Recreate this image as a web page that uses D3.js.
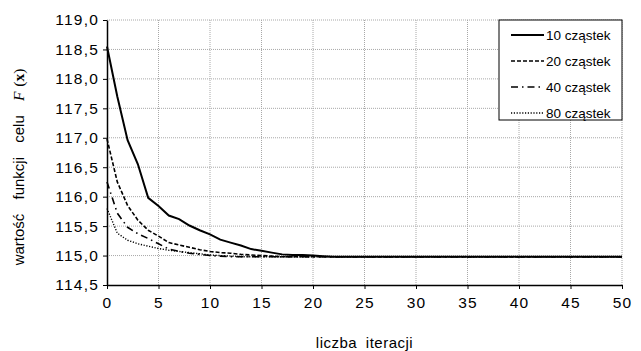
<!DOCTYPE html>
<html>
<head>
<meta charset="utf-8">
<script src="https://cdn.jsdelivr.net/npm/d3@7"></script>
<style>
	body { margin: 0; background: #fff; }
	svg { display: block; font-family: "Liberation Sans", Arial, sans-serif; }
	.axis text { font-size: 15.5px; fill: #000; letter-spacing: 1.2px; }
	.axis path, .axis line { stroke: #000; }
</style>
</head>
<body>
<script>
// iterations 0..50
var iterations = d3.range(0, 51);

// values (tail values stay flat near 114,98)
var tail = 114.98;
var s10 = [118.55, 117.7, 116.96, 116.55, 115.98, 115.84, 115.68, 115.62, 115.51, 115.43, 115.36,
	115.27, 115.22, 115.17, 115.11, 115.08, 115.05, 115.02, 115.01, 115.01, 115.0, 114.99];
var s20 = [116.98, 116.25, 115.85, 115.6, 115.43, 115.33, 115.22, 115.18, 115.14, 115.1, 115.07,
	115.05, 115.04, 115.02, 115.01, 115.0, 114.99];
var s40 = [116.25, 115.72, 115.48, 115.37, 115.29, 115.2, 115.11, 115.07, 115.04, 115.02, 115.0, 114.99];
var s80 = [115.8, 115.38, 115.26, 115.2, 115.16, 115.12, 115.09, 115.07, 115.05, 115.03, 115.01, 115.0, 114.99];

var seriesNames = ["10 cząstek", "20 cząstek", "40 cząstek", "80 cząstek"];
var yTicks = [114.5, 115, 115.5, 116, 116.5, 117, 117.5, 118, 118.5, 119];
var xTicks = [0, 5, 10, 15, 20, 25, 30, 35, 40, 45, 50];

function fill(ar){
	return iterations.map(i => i < ar.length ? ar[i] : tail);
}

var series = [s10, s20, s40, s80].map(fill);
var styles = [
	{dash: null, w: 2},
	{dash: "4,2", w: 1.6},
	{dash: "7,4,1.5,4", w: 1.6},
	{dash: "1.2,1.6", w: 1.4}
];

var width = 641, height = 351;
var margin = {top: 20, right: 19, bottom: 66, left: 107};

var svg = d3.select("body").append("svg")
	.attr("width", width)
	.attr("height", height);

var x = d3.scaleLinear().domain([0, 50]).range([margin.left, width - margin.right]);
var y = d3.scaleLinear().domain([114.5, 119]).range([height - margin.bottom, margin.top]);

var fmt = d => d3.format(".1f")(d).replace(".", ",");

// grid
svg.append("g").selectAll("line")
	.data(yTicks.slice(1))
	.enter().append("line")
	.attr("x1", x(0)).attr("x2", x(50))
	.attr("y1", d => y(d)).attr("y2", d => y(d))
	.attr("stroke", "#a8a8a8").attr("stroke-dasharray", "1,1");

svg.append("g").selectAll("line")
	.data(xTicks.slice(1))
	.enter().append("line")
	.attr("x1", d => x(d)).attr("x2", d => x(d))
	.attr("y1", y(114.5)).attr("y2", y(119))
	.attr("stroke", "#a8a8a8").attr("stroke-dasharray", "1,1");

// axes
var xg = svg.append("g")
	.attr("class", "axis")
	.attr("transform", "translate(0," + y(114.5) + ")")
	.call(d3.axisBottom(x).tickValues(xTicks).tickSize(4).tickSizeOuter(0).tickPadding(8));

var yg = svg.append("g")
	.attr("class", "axis")
	.attr("transform", "translate(" + x(0) + ",0)")
	.call(d3.axisLeft(y).tickValues(yTicks).tickFormat(fmt).tickSize(4).tickSizeOuter(0).tickPadding(4));

xg.select(".domain").attr("stroke-width", 1.5);
yg.select(".domain").attr("stroke-width", 1.5);

// lines
var line = d3.line()
	.x((d, i) => x(iterations[i]))
	.y(d => y(d));

series.forEach(function(s, k){
	svg.append("path")
		.datum(s)
		.attr("fill", "none")
		.attr("stroke", "#000")
		.attr("stroke-width", styles[k].w)
		.attr("stroke-dasharray", styles[k].dash)
		.attr("d", line);
});

// legend
var lg = svg.append("g").attr("transform", "translate(499,20)");
lg.append("rect")
	.attr("width", 123).attr("height", 100)
	.attr("fill", "#fff").attr("stroke", "#000").attr("stroke-width", 1);

seriesNames.forEach(function(name, k){
	var ly = 15 + k * 26;
	lg.append("line")
		.attr("x1", 12).attr("x2", 45)
		.attr("y1", ly).attr("y2", ly)
		.attr("stroke", "#000")
		.attr("stroke-width", styles[k].w)
		.attr("stroke-dasharray", styles[k].dash);
	lg.append("text")
		.attr("x", 47).attr("y", ly + 5)
		.attr("font-size", 13.5)
		.text(name);
});

// titles
svg.append("text")
	.attr("x", (x(0) + x(50)) / 2)
	.attr("y", 348)
	.attr("text-anchor", "middle")
	.attr("font-size", 15)
	.attr("letter-spacing", 0.5)
	.attr("word-spacing", 4)
	.text("liczba iteracji");

var yt = svg.append("text")
	.attr("transform", "translate(24,167)rotate(-90)")
	.attr("text-anchor", "middle")
	.attr("font-size", 15)
	.attr("word-spacing", 10);
yt.append("tspan").text("wartość funkcji celu ");
yt.append("tspan").attr("font-family", "'Liberation Serif', serif").attr("font-style", "italic").attr("font-size", 15.5).text("F");
yt.append("tspan").attr("font-family", "'Liberation Serif', serif").attr("font-size", 15.5).attr("word-spacing", 1).text(" (");
yt.append("tspan").attr("font-family", "'Liberation Serif', serif").attr("font-weight", "bold").attr("font-size", 15.5).text("x");
yt.append("tspan").attr("font-family", "'Liberation Serif', serif").attr("font-size", 15.5).text(")");
</script>
</body>
</html>
